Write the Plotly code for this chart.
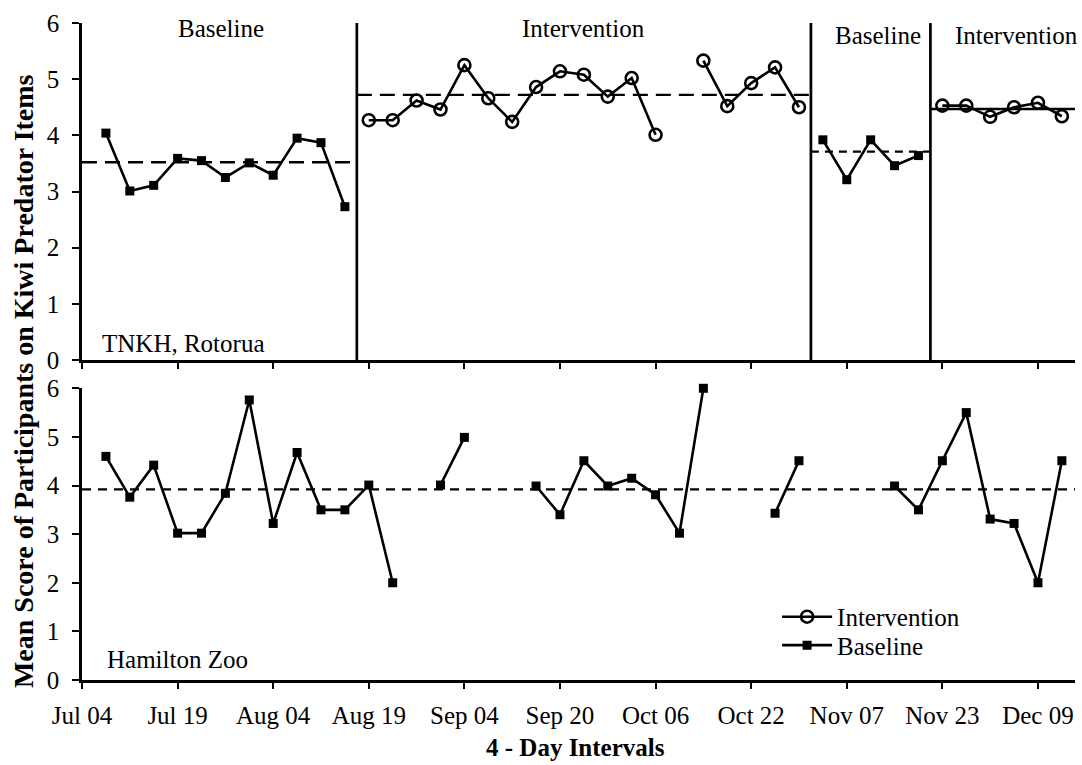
import plotly.graph_objects as go

# ---------------- data ----------------
tick_pos = [0, 4, 8, 12, 16, 20, 24, 28, 32, 36, 40]
tick_labels = ["Jul 04", "Jul 19", "Aug 04", "Aug 19", "Sep 04", "Sep 20",
               "Oct 06", "Oct 22", "Nov 07", "Nov 23", "Dec 09"]

# Top panel: TNKH, Rotorua
top_base1_x = list(range(1, 12))
top_base1_y = [4.04, 3.01, 3.11, 3.59, 3.55, 3.25, 3.51, 3.29, 3.95, 3.87, 2.73]
top_int1_x = list(range(12, 25))
top_int1_y = [4.27, 4.27, 4.62, 4.46, 5.25, 4.66, 4.24, 4.86, 5.14, 5.08, 4.69, 5.02, 4.01]
top_int2_x = list(range(26, 31))
top_int2_y = [5.33, 4.52, 4.93, 5.21, 4.50]
top_base2_x = list(range(31, 36))
top_base2_y = [3.92, 3.21, 3.92, 3.46, 3.64]
top_int3_x = list(range(36, 42))
top_int3_y = [4.53, 4.53, 4.33, 4.50, 4.58, 4.34]

phase_bounds = [0, 11.5, 30.5, 35.5, 41.55]
phase_names = ["Baseline", "Intervention", "Baseline", "Intervention"]
phase_means = [3.52, 4.72, 3.71, 4.47]

# Bottom panel: Hamilton Zoo (baseline only)
bot_segments_x = [list(range(1, 14)), [15, 16], list(range(19, 27)), [29, 30], list(range(34, 42))]
bot_segments_y = [
    [4.60, 3.76, 4.42, 3.02, 3.02, 3.84, 5.76, 3.22, 4.68, 3.50, 3.50, 4.01, 2.00],
    [4.01, 4.99],
    [3.99, 3.40, 4.51, 3.99, 4.15, 3.81, 3.02, 6.00],
    [3.43, 4.51],
    [3.99, 3.50, 4.51, 5.50, 3.31, 3.22, 2.00, 4.51],
]
bot_mean = 3.92

# ---------------- styling ----------------
FONT = "Liberation Serif, Times New Roman, serif"
BLACK = "#000000"
LW = 2.6

base_marker = dict(symbol="square", size=9, color=BLACK)
int_marker = dict(symbol="circle-open", size=12, color=BLACK, line=dict(width=2.6, color=BLACK))

fig = go.Figure()

def add_base(x, y, xa, ya, show=False):
    fig.add_trace(go.Scatter(x=x, y=y, mode="lines+markers", name="Baseline",
                             line=dict(color=BLACK, width=LW), marker=base_marker,
                             xaxis=xa, yaxis=ya, showlegend=show, legend="legend2",
                             legendgroup="b", cliponaxis=False))

def add_int(x, y, xa, ya, show=False):
    fig.add_trace(go.Scatter(x=x, y=y, mode="lines+markers", name="Intervention",
                             line=dict(color=BLACK, width=LW), marker=int_marker,
                             xaxis=xa, yaxis=ya, showlegend=show, legend="legend",
                             legendgroup="i", cliponaxis=False))

# mean lines top
dashes = ["15px,8px", "15px,8px", "8px,6px", "solid"]
for i in range(4):
    fig.add_trace(go.Scatter(x=[phase_bounds[i], phase_bounds[i + 1]],
                             y=[phase_means[i], phase_means[i]], mode="lines",
                             line=dict(color=BLACK, width=2.4, dash=dashes[i]),
                             xaxis="x", yaxis="y", showlegend=False, hoverinfo="skip"))
# mean line bottom
fig.add_trace(go.Scatter(x=[phase_bounds[0], phase_bounds[-1]], y=[bot_mean, bot_mean],
                         mode="lines", line=dict(color=BLACK, width=2.4, dash="9px,7px"),
                         xaxis="x2", yaxis="y2", showlegend=False, hoverinfo="skip"))

add_base(top_base1_x, top_base1_y, "x", "y", show=True)
add_int(top_int1_x, top_int1_y, "x", "y", show=True)
add_int(top_int2_x, top_int2_y, "x", "y")
add_base(top_base2_x, top_base2_y, "x", "y")
add_int(top_int3_x, top_int3_y, "x", "y")
for sx, sy in zip(bot_segments_x, bot_segments_y):
    add_base(sx, sy, "x2", "y2")

# phase change lines
for b in phase_bounds[1:-1]:
    fig.add_shape(type="line", x0=b, x1=b, y0=0, y1=6, xref="x", yref="y",
                  line=dict(color=BLACK, width=2.7))

# phase labels
label_pos = [(5.8, 5.91), (21.0, 5.91), (33.3, 5.78), (39.1, 5.78)]
for (lx, ly), name in zip(label_pos, phase_names):
    fig.add_annotation(x=lx, y=ly, xref="x", yref="y", text=name, showarrow=False,
                       xanchor="center", yanchor="middle",
                       font=dict(family=FONT, size=25, color=BLACK))

fig.add_annotation(x=0.77, y=0.30, xref="x", yref="y", text="TNKH, Rotorua",
                   xanchor="left", yanchor="middle", showarrow=False,
                   font=dict(family=FONT, size=25, color=BLACK))
fig.add_annotation(x=0.97, y=0.43, xref="x2", yref="y2", text="Hamilton Zoo",
                   xanchor="left", yanchor="middle", showarrow=False,
                   font=dict(family=FONT, size=25, color=BLACK))

# axis titles
fig.add_annotation(x=-0.0594, y=0.455, xref="paper", yref="paper",
                   xanchor="center", yanchor="middle",
                   text="<b>Mean Score of Participants on Kiwi Predator Items</b>",
                   textangle=-90, showarrow=False, font=dict(family=FONT, size=28, color=BLACK))
fig.add_annotation(x=0.497, y=-0.1035, xref="paper", yref="paper",
                   xanchor="center", yanchor="middle",
                   text="<b>4 - Day Intervals</b>", showarrow=False,
                   font=dict(family=FONT, size=25, color=BLACK))

axis_common = dict(showgrid=False, zeroline=False, showline=True, linecolor=BLACK,
                   linewidth=2.7, ticks="outside", tickcolor=BLACK, tickwidth=2.4,
                   tickfont=dict(family=FONT, size=25, color=BLACK))

legend_common = dict(xanchor="left", yanchor="top", itemwidth=50,
                     font=dict(family=FONT, size=25, color=BLACK),
                     bgcolor="rgba(0,0,0,0)", tracegroupgap=0)

fig.update_layout(
    width=1082, height=765,
    margin=dict(l=82, r=7, t=23, b=85),
    paper_bgcolor="white", plot_bgcolor="white",
    showlegend=True,
    legend=dict(x=0.70, y=0.131, **legend_common),
    legend2=dict(x=0.70, y=0.0877, **legend_common),
    xaxis=dict(domain=[0, 1], range=[0, 41.55], tickvals=tick_pos, ticktext=[""] * len(tick_pos),
               ticklen=6, anchor="y", **axis_common),
    yaxis=dict(domain=[0.487, 1.0], range=[0, 6], tickvals=[0, 1, 2, 3, 4, 5, 6],
               ticklen=7, ticklabelstandoff=8, anchor="x", **axis_common),
    xaxis2=dict(domain=[0, 1], range=[0, 41.55], tickvals=tick_pos, ticktext=tick_labels,
                ticklen=6, ticklabelstandoff=5, anchor="y2", **axis_common),
    yaxis2=dict(domain=[0.0, 0.444], range=[0, 6], tickvals=[0, 1, 2, 3, 4, 5, 6],
                ticklen=7, ticklabelstandoff=8, anchor="x2", **axis_common),
)

fig.write_html("out.html", config={"displayModeBar": False},
               post_script="document.body.style.margin='0px';")
